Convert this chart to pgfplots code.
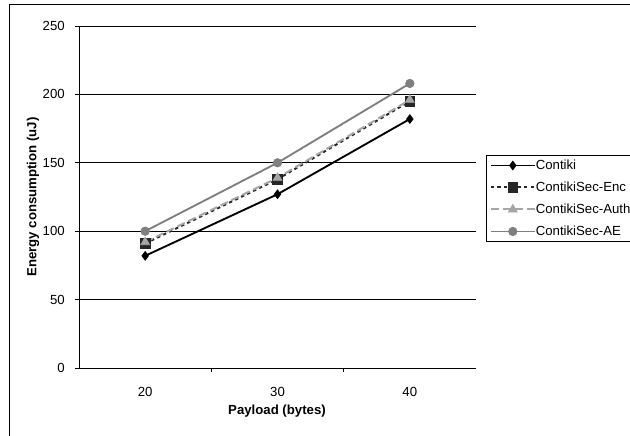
\documentclass[border=0pt]{standalone}
\usepackage{fontspec}
\setmainfont{Liberation Sans}
\usepackage{pgfplots}
\pgfplotsset{compat=1.18}
\definecolor{aecol}{HTML}{7F7F7F}
\definecolor{authcol}{HTML}{A6A6A6}
\definecolor{enccol}{HTML}{262626}
\begin{document}
\begin{tikzpicture}
\path[use as bounding box] (0,0) rectangle (472.5pt,326.25pt);
\draw[black, line width=0.75pt] (7.1pt,-10pt) -- (7.1pt,322.5pt) -- (480pt,322.5pt);
\begin{axis}[
  at={(59.25pt,50.25pt)}, anchor=south west,
  scale only axis, width=297.75pt, height=256.5pt,
  xmin=-0.5, xmax=2.5, ymin=0, ymax=250,
  axis x line*=bottom, axis y line*=left,
  axis line style={black, line width=0.7pt, -},
  xtick={0,1,2}, xticklabels={20,30,40},
  minor xtick={0.5,1.5},
  major x tick style={draw=none},
  minor tick length=3pt,
  ytick={0,50,100,150,200,250},
  tick align=outside, major tick length=3pt,
  tick style={black, line width=0.7pt},
  ymajorgrids, grid style={black, line width=0.7pt},
  font=\fontsize{9.9pt}{11.5pt}\selectfont,
  /pgf/number format/assume math mode=true,
  yticklabel style={inner sep=0pt, xshift=-7.5pt},
  xticklabel style={inner sep=0pt, yshift=-11pt},
  xlabel={\bfseries Payload (bytes)},
  ylabel={\bfseries Energy consumption (uJ)},
  xlabel style={at={(axis description cs:0.4987,-0.127)}, anchor=center},
  ylabel style={at={(axis description cs:-0.1159,0.5)}, anchor=center, rotate=0},
  legend style={at={(axis description cs:1.0252,0.6228)}, anchor=north west,
    draw=black, line width=0.7pt, inner xsep=2.5pt, inner ysep=2.25pt,
    row sep=6pt, font=\fontsize{9.9pt}{11.5pt}\selectfont,
    nodes={inner sep=0pt, text height=8pt, text depth=2.5pt},
    cells={anchor=west}},
  legend image code/.code={
    \draw[mark repeat=2,mark phase=2,#1] plot coordinates {(0pt,0pt) (16.5pt,0pt) (33pt,0pt)};},
  clip=false,
]
\addplot[black, line width=1.4pt, mark=diamond*, mark size=3.3pt, mark options={solid, fill=black, line width=0.5pt}]
  coordinates {(0,82) (1,127) (2,182)};
\addlegendentry{Contiki}
\addplot[enccol, line width=1.5pt, dash pattern=on 2.5pt off 2.5pt, mark=square*, mark size=3.6pt, mark options={solid, fill=enccol, draw=enccol, line width=0.5pt}]
  coordinates {(0,91) (1,138) (2,195)};
\addlegendentry{ContikiSec-Enc}
\addplot[authcol, line width=1.5pt, dash pattern=on 6pt off 3pt, mark=triangle*, mark size=3.8pt, mark options={solid, fill=authcol, draw=authcol, line width=0.5pt}]
  coordinates {(0,92) (1,139) (2,196)};
\addlegendentry{ContikiSec-Auth}
\addplot[aecol, line width=1.4pt, mark=*, mark size=3.2pt, mark options={solid, fill=aecol, draw=aecol, line width=0.5pt}]
  coordinates {(0,100) (1,150) (2,208)};
\addlegendentry{ContikiSec-AE}
\end{axis}
\end{tikzpicture}
\end{document}
